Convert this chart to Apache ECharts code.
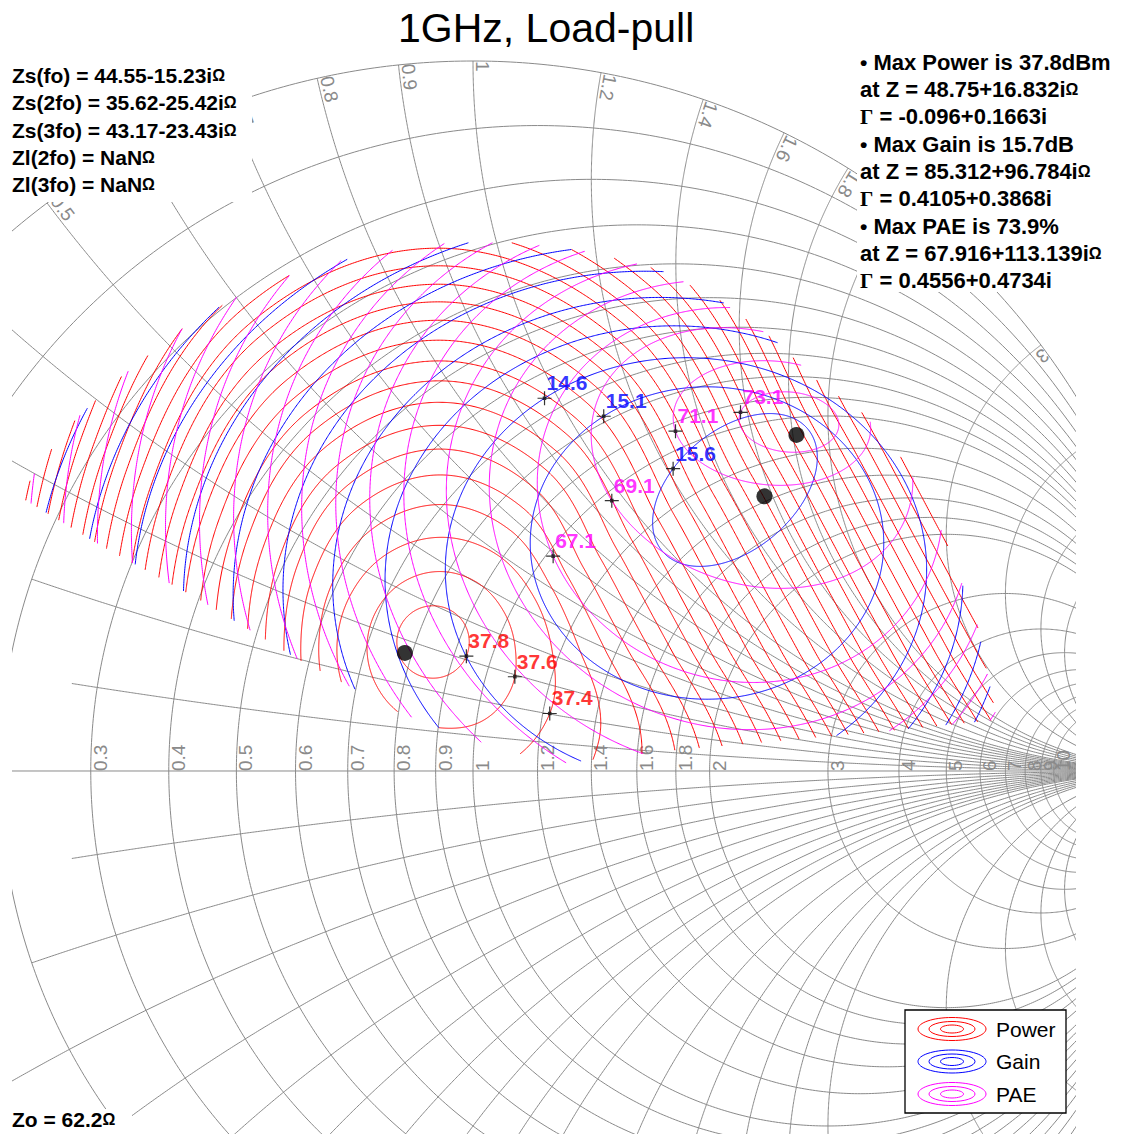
<!DOCTYPE html>
<html>
<head>
<meta charset="utf-8">
<script src="https://cdn.jsdelivr.net/npm/echarts@6/dist/echarts.min.js"></script>
<style>
  html, body { margin: 0; padding: 0; background: #ffffff; }
  #chart { width: 1134px; height: 1134px; }
</style>
</head>
<body>
<div id="chart"></div>
<script>
// ---- Smith chart grid (normalised resistance / reactance circles) ----
const R_GRID = [0.1, 0.2, 0.3, 0.4, 0.5, 0.6, 0.7, 0.8, 0.9, 1, 1.2, 1.4, 1.6, 1.8, 2, 3, 4, 5, 6, 7, 8, 9, 10, 20, 50];
const X_GRID = [0.1, 0.2, 0.3, 0.4, 0.5, 0.6, 0.7, 0.8, 0.9, 1, 1.2, 1.4, 1.6, 1.8, 2, 3, 4, 5, 6, 7, 8, 9, 10, 20, 50];
const R_TICKS = [0.3, 0.4, 0.5, 0.6, 0.7, 0.8, 0.9, 1, 1.2, 1.4, 1.6, 1.8, 2, 3, 4, 5, 6, 7, 8, 9, 10];
const X_TICKS = [0.5, 0.6, 0.7, 0.8, 0.9, 1, 1.2, 1.4, 1.6, 1.8, 2, 3];

// ---- measurement summary ----
const SOURCE_NAMES = ['Zs(fo)', 'Zs(2fo)', 'Zs(3fo)', 'Zl(2fo)', 'Zl(3fo)'];
const SOURCE_Z = ['44.55-15.23i', '35.62-25.42i', '43.17-23.43i', 'NaN', 'NaN'];
const Z0 = '62.2';
const MAX_NAMES = ['Power', 'Gain', 'PAE'];
const MAX_VALUES = ['37.8dBm', '15.7dB', '73.9%'];
const MAX_Z = ['48.75+16.832i', '85.312+96.784i', '67.916+113.139i'];
const MAX_GAMMA = [[-0.096, 0.1663], [0.4105, 0.3868], [0.4556, 0.4734]];

// ---- measured load region (reflection coefficient plane) ----
const REGION = [
  [-0.638, 0.386], [-0.606, 0.438], [-0.558, 0.497], [-0.501, 0.551], [-0.413, 0.621],
  [-0.317, 0.677], [-0.225, 0.710], [-0.131, 0.731], [-0.032, 0.744], [0.066, 0.744],
  [0.165, 0.731], [0.263, 0.706], [0.348, 0.663], [0.425, 0.607], [0.489, 0.546],
  [0.549, 0.504], [0.606, 0.438], [0.662, 0.335], [0.710, 0.208], [0.738, 0.072],
  [0.601, 0.058], [0.383, 0.038], [0.270, 0.028], [0.127, 0.011], [0.048, 0.028],
  [-0.051, 0.062], [-0.103, 0.082], [-0.244, 0.156], [-0.385, 0.241], [-0.525, 0.318]
];

// ---- output power contours (dBm): centre, radius, outline profile ----
const PWR_LEVELS = [37.8, 37.6, 37.4, 37.2, 37.0, 36.8, 36.6, 36.4, 36.2, 36.0, 35.8, 35.6, 35.4, 35.2, 35.0,
  34.8, 34.6, 34.4, 34.2, 34.0, 33.8, 33.6, 33.4, 33.2, 33.0, 32.8, 32.6, 32.4, 32.2];
const PWR_CX = [-0.0563, -0.0465, -0.0437, -0.0437, -0.0437, -0.0437, -0.0437, -0.0437, -0.0437, -0.0437,
  -0.0437, -0.0437, -0.0437, -0.0437, -0.0437, -0.0437, -0.0437, -0.0437, -0.0437, -0.0437,
  -0.0437, -0.0437, -0.0437, -0.0437, -0.0437, -0.0437, -0.0437, -0.0437, -0.0437];
const PWR_CY = [0.1817, 0.1732, 0.1704, 0.1704, 0.1704, 0.1704, 0.1704, 0.1704, 0.1704, 0.1704,
  0.1704, 0.1704, 0.1704, 0.1704, 0.1704, 0.1704, 0.1704, 0.1704, 0.1704, 0.1704,
  0.1704, 0.1704, 0.1704, 0.1704, 0.1704, 0.1704, 0.1704, 0.1704, 0.1704];
const PWR_R = [0.051, 0.106, 0.155, 0.194, 0.230, 0.262, 0.293, 0.323, 0.351, 0.377, 0.404, 0.430, 0.454, 0.477, 0.501,
  0.524, 0.546, 0.569, 0.590, 0.611, 0.632, 0.654, 0.673, 0.693, 0.713, 0.732, 0.752, 0.772, 0.792];
const PWR_BLEND = [0, 0.2, 0.3, 0.7, 0.9, 1, 1, 1, 1, 1, 1, 1, 1, 1, 1, 1, 1, 1, 1, 1, 1, 1, 1, 1, 1, 1, 1, 1, 1];
// radial profile every 30 degrees, starting at +real axis, counter-clockwise
const PWR_PROFILE = [1.0, 0.88, 1.0, 1.08, 1.02, 0.9, 0.85, 0.9, 1.1, 1.3, 1.6, 1.45];

// ---- gain contours (dB): centre, semi-axes, tilt ----
const GAIN_LEVELS = [15.6, 15.1, 14.6, 14.1, 13.6, 13.1, 12.6, 12.1, 11.6, 11.1, 10.6, 10.1, 9.6, 9.1];
const GAIN_CX = [0.3690, 0.3296, 0.3000, 0.2831, 0.2634, 0.2423, 0.2211, 0.2000, 0.1789, 0.1577, 0.1366, 0.1155, 0.0944, 0.0732];
const GAIN_CY = [0.3958, 0.3211, 0.2831, 0.2690, 0.2620, 0.2549, 0.2479, 0.2408, 0.2338, 0.2268, 0.2197, 0.2127, 0.2056, 0.1986];
const GAIN_A = [0.1338, 0.249, 0.339, 0.407, 0.461, 0.510, 0.559, 0.608, 0.658, 0.707, 0.756, 0.806, 0.855, 0.904];
const GAIN_B = [0.0845, 0.220, 0.299, 0.358, 0.405, 0.449, 0.492, 0.535, 0.579, 0.623, 0.666, 0.708, 0.752, 0.796];
const GAIN_TILT = [40, 0, 0, 0, 0, 0, 0, 0, 0, 0, 0, 0, 0, 0];

// ---- power added efficiency contours (%) ----
const PAE_LEVELS = [73.1, 71.1, 69.1, 67.1, 65.1, 63.1, 61.1, 59.1, 57.1, 55.1, 53.1, 51.1, 49.1, 47.1, 45.1, 43.1, 41.1, 39.1, 37.1, 35.1];
const PAE_CX = [0.4451, 0.4211, 0.3930, 0.3761, 0.3620, 0.3479, 0.3338, 0.3239, 0.3141, 0.3042, 0.2944, 0.2845, 0.2746, 0.2648, 0.2549, 0.2451, 0.2352, 0.2254, 0.2155, 0.2056];
const PAE_CY = [0.4915, 0.4901, 0.4408, 0.3887, 0.3746, 0.3606, 0.3465, 0.3352, 0.3239, 0.3127, 0.3014, 0.2901, 0.2789, 0.2676, 0.2563, 0.2451, 0.2338, 0.2225, 0.2113, 0.2000];
const PAE_A = [0.0704, 0.1394, 0.2324, 0.2887, 0.3451, 0.3944, 0.4437, 0.4831, 0.5225, 0.5620, 0.6014, 0.6408, 0.6803, 0.7197, 0.7592, 0.7986, 0.8380, 0.8775, 0.9169, 0.9563];
const PAE_B = [0.0423, 0.0873, 0.1761, 0.2606, 0.3099, 0.3521, 0.3915, 0.4254, 0.4592, 0.4930, 0.5268, 0.5606, 0.5944, 0.6282, 0.6620, 0.6958, 0.7296, 0.7634, 0.7972, 0.8310];
const PAE_TILT = [-5, -5, -20, -20, -25, -28, -30, -30, -30, -30, -30, -30, -30, -30, -30, -30, -30, -30, -30, -30];

// ---- labelled contour values and where their labels sit ----
const PWR_TAGS = [37.8, 37.6, 37.4];
const PWR_TAG_AT = [[-0.010, 0.162], [0.052, 0.134], [0.096, 0.086]];
const GAIN_TAGS = [15.6, 15.1, 14.6];
const GAIN_TAG_AT = [[0.283, 0.425], [0.183, 0.501], [0.101, 0.525]];
const PAE_TAGS = [73.1, 71.1, 69.1, 67.1];
const PAE_TAG_AT = [[0.380, 0.504], [0.290, 0.480], [0.189, 0.377], [0.117, 0.304]];

// ---------------------------------------------------------------------
const VIEW_X = [-0.648, 0.848];
const VIEW_Y = [-0.5113, 1.0155];
const PLOT = { left: 13, top: 50, width: 1062, height: 1084 };
const GRID_GREY = '#8a8a8a';
const FONT = '"Liberation Sans", Arial, Helvetica, sans-serif';
const SERIF = '"Liberation Serif", "Times New Roman", serif';

function gammaOf(r, x) {
  const d = (r + 1) * (r + 1) + x * x;
  return [(r * r - 1 + x * x) / d, (2 * x) / d];
}
function resistanceCircle(r) {
  const c = r / (1 + r), rad = 1 / (1 + r), pts = [];
  for (let i = 0; i <= 720; i++) {
    const t = Math.PI * 2 * i / 720;
    pts.push([c + rad * Math.cos(t), rad * Math.sin(t)]);
  }
  return pts;
}
function reactanceArc(x, rStart) {
  const pts = [];
  for (let i = 0; i <= 600; i++) {
    const s = i / 600 * 0.9995;
    pts.push(gammaOf(rStart + s / (1 - s), x));
  }
  pts.push([1, 0]);
  return pts;
}

const gridLines = [];
R_GRID.forEach(r => gridLines.push({ coords: resistanceCircle(r) }));
gridLines.push({ coords: resistanceCircle(0) });
gridLines.push({ coords: [[-1, 0], [1, 0]] });
X_GRID.forEach(x => {
  const start = x <= 0.1 ? 0.27 : (x <= 0.2 ? 0.2 : 0);
  gridLines.push({ coords: reactanceArc(x, start) });
  gridLines.push({ coords: reactanceArc(-x, start) });
});

function within(v, lo, hi) { return v >= lo && v <= hi; }
function visible(p) { return within(p[0], VIEW_X[0], VIEW_X[1] - 0.01) && within(p[1], VIEW_Y[0], VIEW_Y[1]); }

// tick labels: resistance along the real axis, reactance along the rim
const tickTexts = [];
R_TICKS.forEach(r => {
  const g = [(r - 1) / (r + 1), 0];
  if (visible(g)) tickTexts.push({ value: g, text: String(r), rot: 90, align: 'left', valign: 'top' });
});
X_TICKS.forEach(x => {
  const g = gammaOf(0, x);
  if (visible(g)) {
    const rot = Math.atan2(-g[1], -g[0]) * 180 / Math.PI;
    tickTexts.push({ value: g, text: String(x), rot, align: 'left', valign: 'bottom' });
  }
});

// ---- contour geometry ----
function inRegion(p) {
  let c = false;
  for (let i = 0, j = REGION.length - 1; i < REGION.length; j = i++) {
    const a = REGION[i], b = REGION[j];
    if ((a[1] > p[1]) !== (b[1] > p[1]) &&
        p[0] < (b[0] - a[0]) * (p[1] - a[1]) / (b[1] - a[1]) + a[0]) c = !c;
  }
  return c;
}
function edgePoint(pIn, pOut) {
  let a = pIn, b = pOut;
  for (let k = 0; k < 14; k++) {
    const m = [(a[0] + b[0]) / 2, (a[1] + b[1]) / 2];
    if (inRegion(m)) a = m; else b = m;
  }
  return a;
}
function profileAt(profile, t) {
  const n = profile.length, u = (t / (Math.PI * 2)) * n;
  const i = Math.floor(u), f = u - i;
  const p0 = profile[(i - 1 + n) % n], p1 = profile[i % n], p2 = profile[(i + 1) % n], p3 = profile[(i + 2) % n];
  return 0.5 * ((2 * p1) + (-p0 + p2) * f + (2 * p0 - 5 * p1 + 4 * p2 - p3) * f * f + (-p0 + 3 * p1 - 3 * p2 + p3) * f * f * f);
}
function outline(cx, cy, a, b, tilt, profile, blend) {
  const t0 = tilt * Math.PI / 180, c = Math.cos(t0), s = Math.sin(t0), pts = [];
  const n = 1440;
  for (let i = 0; i < n; i++) {
    const u = Math.PI * 2 * i / n;
    const k = profile ? 1 + blend * (profileAt(profile, u) - 1) : 1;
    const ex = a * k * Math.cos(u), ey = b * k * Math.sin(u);
    pts.push([cx + ex * c - ey * s, cy + ex * s + ey * c]);
  }
  return pts;
}
function clipClosed(pts) {
  const n = pts.length;
  let start = -1;
  for (let i = 0; i < n; i++) if (!inRegion(pts[i])) { start = i; break; }
  if (start < 0) return [pts.concat([pts[0]])];
  const segs = [];
  let cur = null, prev = pts[start];
  for (let k = 1; k <= n; k++) {
    const p = pts[(start + k) % n];
    if (inRegion(p)) {
      if (!cur) cur = [edgePoint(p, prev)];
      cur.push(p);
    } else if (cur) {
      cur.push(edgePoint(prev, p));
      segs.push(cur);
      cur = null;
    }
    prev = p;
  }
  if (cur) segs.push(cur);
  return segs;
}
function family(levels, cx, cy, ra, rb, tilt, profile, blend) {
  const lines = [], curves = {};
  levels.forEach((lv, i) => {
    const pts = outline(cx[i], cy[i], ra[i], rb[i], tilt ? tilt[i] : 0, profile, blend ? blend[i] : 0);
    curves[lv] = pts;
    clipClosed(pts).forEach(seg => lines.push({ coords: seg }));
  });
  return { lines, curves };
}
function tagPoints(fam, tags, at) {
  return tags.map((lv, i) => {
    const pts = fam.curves[lv];
    let best = pts[0], bd = Infinity;
    pts.forEach(p => {
      const d = (p[0] - at[i][0]) ** 2 + (p[1] - at[i][1]) ** 2;
      if (d < bd) { bd = d; best = p; }
    });
    return { value: best, name: lv.toFixed(1) };
  });
}

const pwr = family(PWR_LEVELS, PWR_CX, PWR_CY, PWR_R, PWR_R, null, PWR_PROFILE, PWR_BLEND);
const gain = family(GAIN_LEVELS, GAIN_CX, GAIN_CY, GAIN_A, GAIN_B, GAIN_TILT);
const pae = family(PAE_LEVELS, PAE_CX, PAE_CY, PAE_A, PAE_B, PAE_TILT);

const CROSS = 'path://M0,6.4H14V7.6H0Z M6.4,0H7.6V14H6.4Z M5.2,5.2H8.8V8.8H5.2Z';

function contourSeries(name, fam, color) {
  return {
    type: 'lines', name, coordinateSystem: 'cartesian2d', polyline: true, clip: true,
    silent: true, z: 3,
    lineStyle: { color, width: 1, opacity: 1 },
    data: fam.lines
  };
}
function tagSeries(fam, tags, at, color) {
  return {
    type: 'scatter', symbol: CROSS, symbolSize: 14, z: 6, silent: true,
    itemStyle: { color: '#000' },
    label: {
      show: true, formatter: '{b}', position: [9, 2], align: 'left', verticalAlign: 'bottom',
      color, fontSize: 21, fontWeight: 'bold', fontFamily: FONT
    },
    data: tagPoints(fam, tags, at)
  };
}

// ---- text blocks ----
const OMEGA = { fontSize: 16, fontWeight: 'bold', fontFamily: FONT, fill: '#000' };
const graphics = [];
graphics.push({ type: 'rect', shape: { x: 0, y: 60, width: 252, height: 142 }, style: { fill: '#fff' }, z: 50, silent: true });
graphics.push({ type: 'rect', shape: { x: 857, y: 40, width: 277, height: 252 }, style: { fill: '#fff' }, z: 50, silent: true });
graphics.push({ type: 'rect', shape: { x: 0, y: 1109, width: 132, height: 25 }, style: { fill: '#fff' }, z: 50, silent: true });

SOURCE_NAMES.forEach((nm, i) => {
  graphics.push({
    type: 'text', z: 60, silent: true, x: 12, y: 86 + i * 27.3,
    style: {
      text: '{m|' + nm + ' = ' + SOURCE_Z[i] + '}{o|Ω}',
      textVerticalAlign: 'bottom',
      rich: { m: { fontSize: 21, fontWeight: 'bold', fontFamily: FONT, fill: '#000' }, o: OMEGA }
    }
  });
});
graphics.push({
  type: 'text', z: 60, silent: true, x: 12, y: 1130,
  style: {
    text: '{m|Zo = ' + Z0 + '}{o|Ω}', textVerticalAlign: 'bottom',
    rich: { m: { fontSize: 21, fontWeight: 'bold', fontFamily: FONT, fill: '#000' }, o: OMEGA }
  }
});

function fmtGamma(g) {
  return String(g[0]) + (g[1] >= 0 ? '+' : '') + String(g[1]) + 'i';
}
MAX_NAMES.forEach((nm, i) => {
  const y0 = 73 + i * 82;
  const lines = [
    '{b|•}{m| Max ' + nm + ' is ' + MAX_VALUES[i] + '}',
    '{m|at Z = ' + MAX_Z[i] + '}{o|Ω}',
    '{g|Γ}{m| = ' + fmtGamma(MAX_GAMMA[i]) + '}'
  ];
  lines.forEach((t, k) => {
    graphics.push({
      type: 'text', z: 60, silent: true, x: 860, y: y0 + k * 27.3,
      style: {
        text: t, textVerticalAlign: 'bottom',
        rich: {
          m: { fontSize: 22, fontWeight: 'bold', fontFamily: FONT, fill: '#000' },
          b: { fontSize: 21, fontWeight: 'bold', fontFamily: FONT, fill: '#000' },
          g: { fontSize: 21, fontWeight: 'bold', fontFamily: SERIF, fill: '#000' },
          o: OMEGA
        }
      }
    });
  });
});

// legend
const LEGEND_ITEMS = [['Power', '#ff0000'], ['Gain', '#0000ff'], ['PAE', '#ff00ff']];
graphics.push({ type: 'rect', z: 70, silent: true, shape: { x: 905, y: 1010, width: 161, height: 103 },
  style: { fill: '#fff', stroke: '#000', lineWidth: 1.3 } });
LEGEND_ITEMS.forEach((it, i) => {
  const cy = 1029 + i * 32.5;
  [[34, 11.5], [23, 7.5], [11.5, 4]].forEach(s => {
    graphics.push({ type: 'ellipse', z: 71, silent: true, shape: { cx: 952, cy, rx: s[0], ry: s[1] },
      style: { fill: 'none', stroke: it[1], lineWidth: 1 } });
  });
  graphics.push({ type: 'text', z: 71, silent: true, x: 996, y: cy,
    style: { text: it[0], fontSize: 21, fontFamily: FONT, fill: '#000', textVerticalAlign: 'middle' } });
});

const chart = echarts.init(document.getElementById('chart'), null, { renderer: 'svg' });
chart.setOption({
  animation: false,
  backgroundColor: '#ffffff',
  title: {
    text: '1GHz, Load-pull', left: 393, top: 2,
    textStyle: { fontSize: 41, fontWeight: 'normal', fontFamily: FONT, color: '#000' }
  },
  grid: { left: PLOT.left, top: PLOT.top, width: PLOT.width, height: PLOT.height },
  xAxis: { type: 'value', min: VIEW_X[0], max: VIEW_X[1], show: false },
  yAxis: { type: 'value', min: VIEW_Y[0], max: VIEW_Y[1], show: false },
  series: [
    {
      type: 'lines', coordinateSystem: 'cartesian2d', polyline: true, clip: true, silent: true, z: 1,
      lineStyle: { color: GRID_GREY, width: 1, opacity: 1 },
      data: gridLines
    },
    {
      type: 'custom', coordinateSystem: 'cartesian2d', silent: true, z: 2, clip: true,
      data: tickTexts.map(t => t.value),
      renderItem: (params, api) => {
        const t = tickTexts[params.dataIndex];
        const p = api.coord(t.value);
        return {
          type: 'text', x: p[0], y: p[1], rotation: t.rot * Math.PI / 180,
          style: { text: t.text, fontSize: 19, fontFamily: FONT, fill: GRID_GREY,
            align: t.align, verticalAlign: t.valign }
        };
      }
    },
    contourSeries('Power', pwr, '#ff0000'),
    contourSeries('Gain', gain, '#0000ff'),
    contourSeries('PAE', pae, '#ff00ff'),
    tagSeries(pwr, PWR_TAGS, PWR_TAG_AT, '#ff0000'),
    tagSeries(gain, GAIN_TAGS, GAIN_TAG_AT, '#0000ff'),
    tagSeries(pae, PAE_TAGS, PAE_TAG_AT, '#ff00ff'),
    {
      type: 'scatter', symbol: 'circle', symbolSize: 16, z: 7, silent: true,
      itemStyle: { color: '#000' },
      data: MAX_GAMMA
    }
  ],
  graphic: graphics
});
</script>
</body>
</html>
